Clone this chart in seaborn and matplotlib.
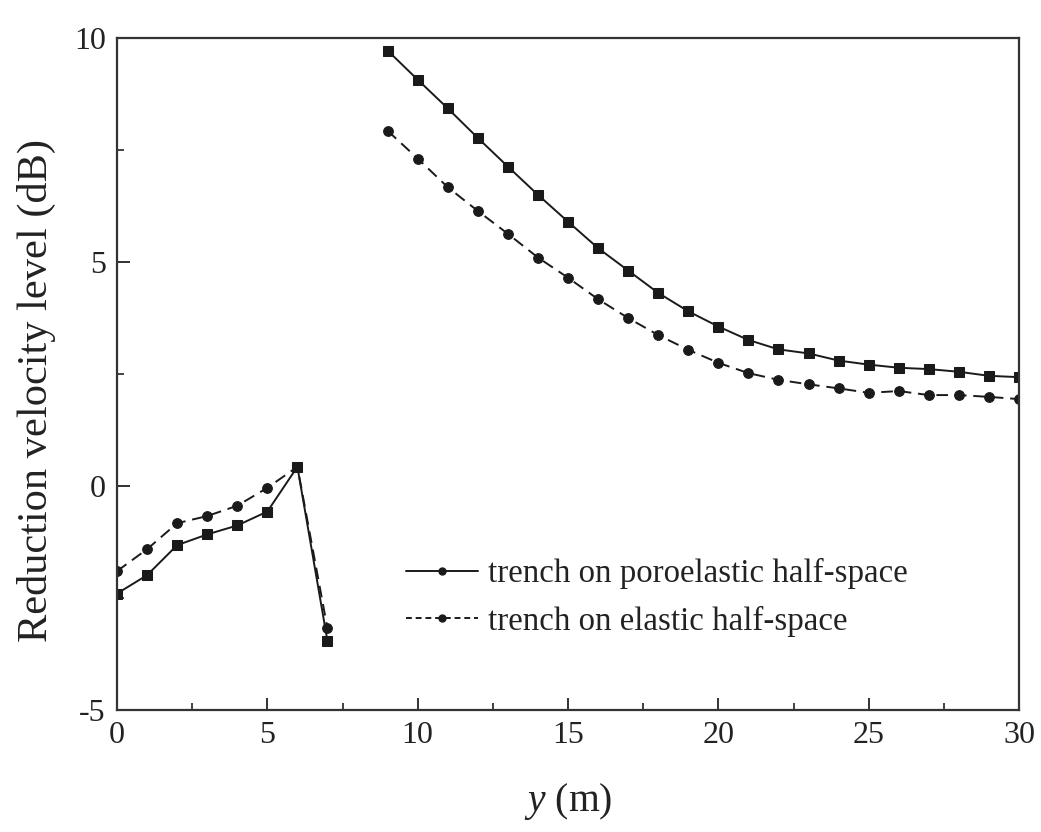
import numpy as np
import pandas as pd
import matplotlib
matplotlib.use("Agg")
import matplotlib.pyplot as plt
from matplotlib.ticker import MultipleLocator
from matplotlib.lines import Line2D
import seaborn as sns

# distance y (m); x = 8 has no value (gap)
y_left = [0, 1, 2, 3, 4, 5, 6, 7]
y_right = [9, 10, 11, 12, 13, 14, 15, 16, 17, 18, 19, 20, 21, 22, 23, 24, 25, 26, 27, 28, 29, 30]

poro_left = [-2.40, -1.99, -1.32, -1.08, -0.88, -0.57, 0.43, -3.46]
poro_right = [9.72, 9.07, 8.43, 7.77, 7.13, 6.50, 5.90, 5.31, 4.81, 4.31, 3.90, 3.56, 3.26, 3.05, 2.96, 2.80, 2.71, 2.64, 2.61, 2.55, 2.46, 2.43]

elas_left = [-1.90, -1.41, -0.83, -0.67, -0.44, -0.04, 0.43, -3.18]
elas_right = [7.93, 7.31, 6.67, 6.14, 5.63, 5.10, 4.65, 4.17, 3.75, 3.37, 3.04, 2.75, 2.52, 2.37, 2.27, 2.18, 2.08, 2.12, 2.03, 2.03, 1.99, 1.94]

label_poro = "trench on poroelastic half-space"
label_elas = "trench on elastic half-space"

sns.set_theme(style="ticks")
plt.rcParams['font.family'] = ['Liberation Serif', 'DejaVu Serif']
plt.rcParams['mathtext.fontset'] = 'custom'
plt.rcParams['mathtext.it'] = 'Liberation Serif:italic'
plt.rcParams['mathtext.rm'] = 'Liberation Serif'
plt.rcParams['axes.unicode_minus'] = False

def frame(left, right, vals_l, vals_r):
    return pd.DataFrame({
        "y": list(left) + list(right),
        "v": list(vals_l) + list(vals_r),
        "seg": [0] * len(left) + [1] * len(right),
    })

df_p = frame(y_left, y_right, poro_left, poro_right)
df_e = frame(y_left, y_right, elas_left, elas_right)

fig = plt.figure(figsize=(10.41, 8.32), dpi=100)
ax = fig.add_axes([0.1124, 0.1466, 0.8665, 0.8077])

sns.lineplot(data=df_p, x="y", y="v", units="seg", estimator=None, ax=ax,
             color="#1a1a1a", linewidth=1.4, marker="s", markersize=6.5,
             markeredgecolor="#1a1a1a", legend=False)
sns.lineplot(data=df_e, x="y", y="v", units="seg", estimator=None, ax=ax,
             color="#1a1a1a", linewidth=1.4, marker="o", markersize=7,
             markeredgecolor="#1a1a1a", dashes=False, legend=False)
ax.lines[-1].set_linestyle((0, (6, 3.5)))
ax.lines[-2].set_linestyle((0, (6, 3.5)))

ax.set_xlim(0, 30)
ax.set_ylim(-5, 10)
ax.xaxis.set_major_locator(MultipleLocator(5))
ax.xaxis.set_minor_locator(MultipleLocator(2.5))
ax.yaxis.set_major_locator(MultipleLocator(5))
ax.yaxis.set_minor_locator(MultipleLocator(2.5))
ax.tick_params(which="major", direction="in", length=9, width=1.3, labelsize=23,
               colors="#222222", top=False, right=False, pad=8)
ax.tick_params(which="minor", direction="in", length=5, width=1.2,
               colors="#222222", top=False, right=False)
for s in ax.spines.values():
    s.set_linewidth(1.6)
    s.set_color("#333333")

ax.set_xlabel(r"$y$ (m)", fontsize=28.5, color="#222222", labelpad=22)
ax.set_ylabel("Reduction velocity level (dB)", fontsize=30.5, color="#222222")
ax.yaxis.set_label_coords(-0.068, 0.476)

handles = [
    Line2D([], [], color="#1a1a1a", linewidth=1.4, marker="o", markersize=5),
    Line2D([], [], color="#1a1a1a", linewidth=1.4, marker="o", markersize=5,
           linestyle=(0, (3, 2))),
]
ax.legend(handles, [label_poro, label_elas], loc="upper left",
          bbox_to_anchor=(0.287, 0.27), frameon=False, fontsize=23.7,
          handlelength=2.2, handletextpad=0.3, labelspacing=0.5,
          labelcolor="#222222")

fig.savefig("out.png", dpi=100, facecolor="white")
